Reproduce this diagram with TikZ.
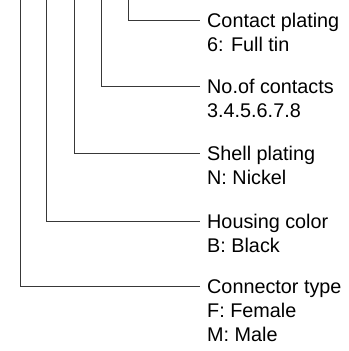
\documentclass[tikz,border=0pt]{standalone}
\usepackage{fontspec}
\setmainfont{Liberation Sans}
\usetikzlibrary{positioning}
\tikzset{
	lbl/.style={
		anchor=base west,
		inner xsep=7bp,
		inner ysep=0pt,
		font=\fontsize{19.8bp}{24bp}\selectfont
	},
	leader/.style={draw=black!78, line width=1bp}
}

\begin{document}
\begin{tikzpicture}[x=1bp, y=-1bp]
	\useasboundingbox (0,0) rectangle (349,351);
	% top ends of the leaders
	\coordinate (cplate) at (128,0);
	\coordinate (cnum) at (101,0);
	\coordinate (cshell) at (74,0);
	\coordinate (chouse) at (46,0);
	\coordinate (ctype) at (20,0);

	\node (plate) [lbl] at (200,27) {Contact plating};
	\node (plateA) [lbl, below=24bp of plate.base west, anchor=base west] {6: Full tin};

	\node (num) [lbl] at (200,93) {No.of contacts};
	\node (numA) [lbl, below=24bp of num.base west, anchor=base west] {3.4.5.6.7.8};

	\node (shell) [lbl] at (200,160) {Shell plating};
	\node (shellA) [lbl, below=24bp of shell.base west, anchor=base west] {N: Nickel};

	\node (house) [lbl] at (200,228) {Housing color};
	\node (houseA) [lbl, below=24bp of house.base west, anchor=base west] {B: Black};

	\node (type) [lbl] at (200,293) {Connector type};
	\node (typeA) [lbl, below=24bp of type.base west, anchor=base west] {F: Female};
	\node (typeB) [lbl, below=24bp of typeA.base west, anchor=base west] {M: Male};

	\draw [leader] (cplate) |- ([yshift=7bp]plate.base west);
	\draw [leader] (cnum) |- ([yshift=7bp]num.base west);
	\draw [leader] (cshell) |- ([yshift=7bp]shell.base west);
	\draw [leader] (chouse) |- ([yshift=7bp]house.base west);
	\draw [leader] (ctype) |- ([yshift=7bp]type.base west);
\end{tikzpicture}
\end{document}
